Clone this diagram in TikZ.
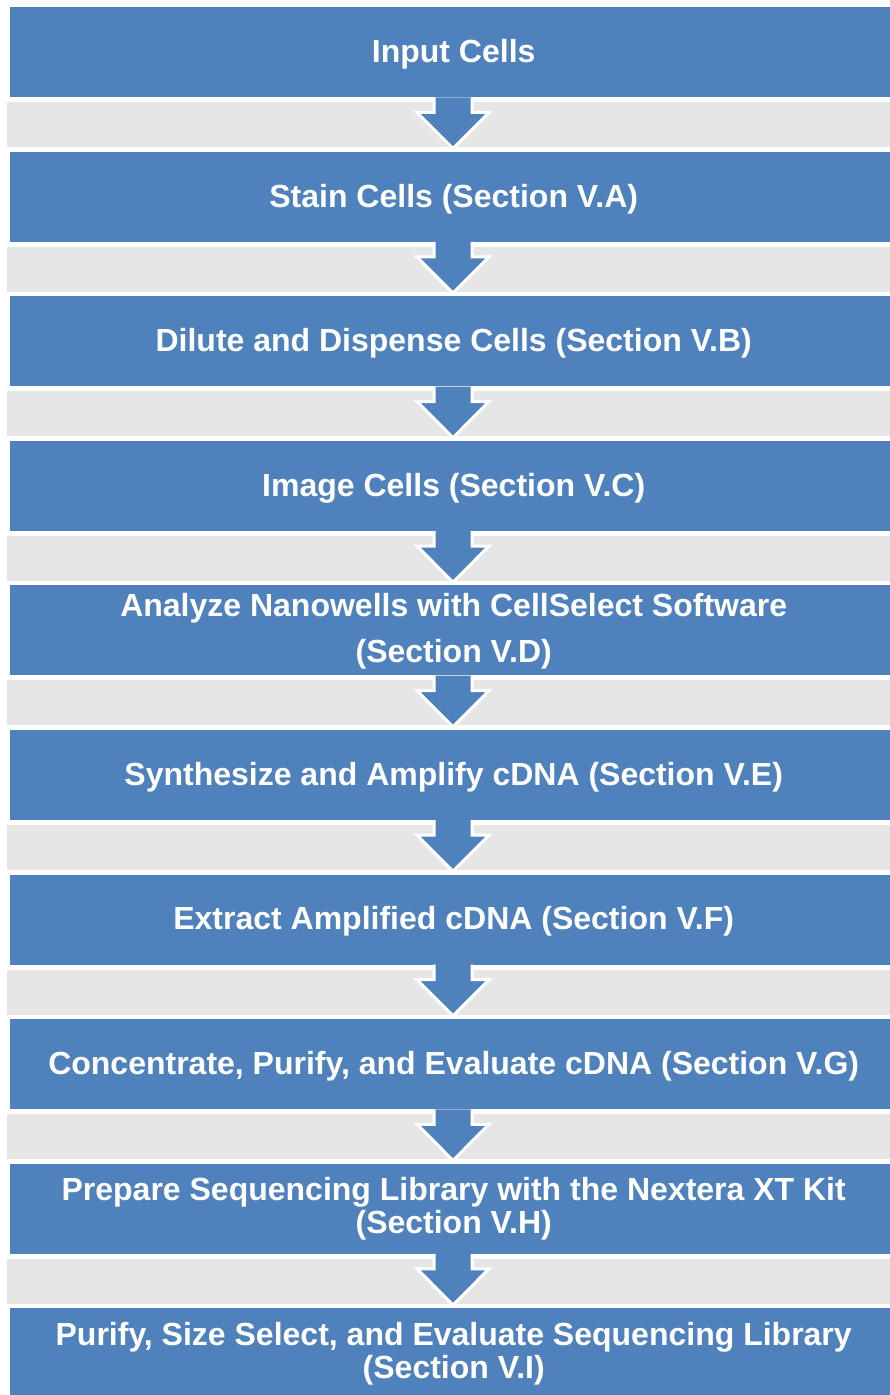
\documentclass[tikz,border=0pt]{standalone}
\usepackage{fontspec}
\setmainfont{Liberation Sans}
\usetikzlibrary{calc}
\definecolor{stepblue}{HTML}{4F81BD}
\definecolor{bargray}{HTML}{E6E6E6}
\tikzset{
  stepbox/.style={fill=stepblue, draw=none, anchor=north west,
    minimum width=890pt, minimum height=90pt, inner sep=0pt},
  steptext/.style={text=white, align=center, inner sep=0pt,
    font=\fontsize{32pt}{33pt}\selectfont\bfseries},
  gapbar/.style={fill=bargray, draw=none, anchor=north west,
    minimum width=890pt, minimum height=45pt, inner sep=0pt},
  downarrow/.style={fill=stepblue, draw=white, line width=3pt, line join=miter}
}
\begin{document}
\begin{tikzpicture}[x=1pt,y=-1pt]
\useasboundingbox (0,0) rectangle (890,1395);
\fill[white] (0,0) rectangle (890,1395);

% gray separators between the steps
\foreach \i in {1,...,9}{
  \node[gapbar] (g\i) at (7,{102+144.55*(\i-1)}) {};
}

% the ten step boxes
\foreach \i in {1,...,10}{
  \node[stepbox] (b\i) at (10,{7+144.55*(\i-1)}) {};
}

% step labels
\node[steptext] (t1)  at ($(b1.center)+(-1.5,2)$)  {Input Cells};
\node[steptext] (t2)  at ($(b2.center)+(-1.5,2)$)  {Stain Cells (Section V.A)};
\node[steptext] (t3)  at ($(b3.center)+(-1.5,2)$)  {Dilute and Dispense Cells (Section V.B)};
\node[steptext] (t4)  at ($(b4.center)+(-1.5,2)$)  {Image Cells (Section V.C)};
\node[steptext] (t5)  at ($(b5.center)+(-1.5,1)$)  {Analyze Nanowells with CellSelect Software\\[13pt](Section V.D)};
\node[steptext] (t6)  at ($(b6.center)+(-1.5,2)$)  {Synthesize and Amplify cDNA (Section V.E)};
\node[steptext] (t7)  at ($(b7.center)+(-1.5,2)$)  {Extract Amplified cDNA (Section V.F)};
\node[steptext] (t8)  at ($(b8.center)+(-1.5,2)$)  {Concentrate, Purify, and Evaluate cDNA (Section V.G)};
\node[steptext] (t9)  at ($(b9.center)+(-1.5,0.5)$)  {Prepare Sequencing Library with the Nextera XT Kit\\(Section V.H)};
\node[steptext] (t10) at ($(b10.center)+(-1.5,1)$) {Purify, Size Select, and Evaluate Sequencing Library\\(Section V.I)};

% block arrows from each step down to the next one
\foreach \a/\b in {b1/b2,b2/b3,b3/b4,b4/b5,b5/b6,b6/b7,b7/b8,b8/b9,b9/b10}{
  \coordinate (top) at ($(\a.south west)+(443,0)$);
  \coordinate (tip) at ($(\b.north west)+(443,-3)$);
  \filldraw[downarrow]
    ($(top)+(-19,0)$) -- ($(top)+(-19,15)$) -- ($(top)+(-36,15)$) --
    (tip) -- ($(top)+(36,15)$) -- ($(top)+(19,15)$) -- ($(top)+(19,0)$);
}
\end{tikzpicture}
\end{document}
